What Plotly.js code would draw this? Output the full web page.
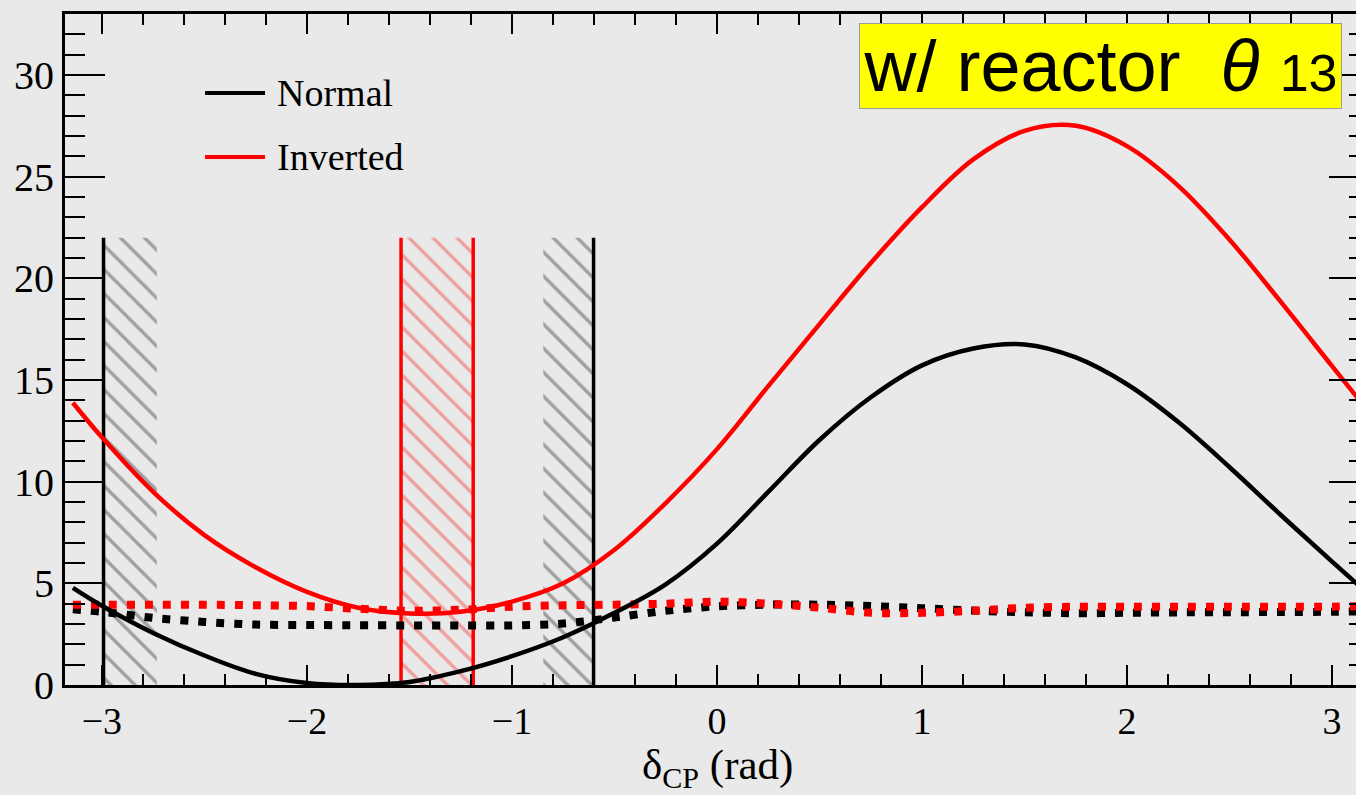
<!DOCTYPE html>
<html>
<head>
<meta charset="utf-8">
<script src="https://cdn.plot.ly/plotly-3.0.1.min.js"></script>
<style>
  html, body { margin: 0; padding: 0; overflow: hidden; background: #e9e9e9; }
  #chart { width: 1370px; height: 795px; }
</style>
</head>
<body>
<div id="chart"></div>
<script>
// ---- data ----
const deltaCP = [-3.1416, -3.0, -2.75, -2.5, -2.25, -2.0, -1.75, -1.5, -1.25, -1.0, -0.75, -0.5, -0.25,
                 0.0, 0.25, 0.5, 0.75, 1.0, 1.25, 1.5, 1.75, 2.0, 2.25, 2.5, 2.75, 3.0, 3.1416];
const normalChi2 = [4.78, 3.9, 2.56, 1.45, 0.55, 0.1, 0.0, 0.15, 0.68, 1.42, 2.35, 3.55, 4.95,
                    6.95, 9.5, 12.05, 14.15, 15.72, 16.55, 16.75, 16.11, 14.79, 12.93, 10.71, 8.36, 6.07, 4.79];
const invertedChi2 = [13.88, 12.18, 9.5, 7.37, 5.79, 4.58, 3.8, 3.52, 3.6, 4.1, 5.0, 6.65, 8.95,
                      11.6, 14.7, 17.75, 20.75, 23.5, 25.85, 27.25, 27.5, 26.5, 24.55, 21.9, 18.84, 15.68, 13.9];
const normalDot = [3.72, 3.6, 3.3, 3.1, 2.97, 2.95, 2.94, 2.93, 2.93, 2.93, 3.02, 3.32, 3.65,
                   3.87, 3.95, 3.95, 3.88, 3.78, 3.66, 3.58, 3.53, 3.55, 3.57, 3.58, 3.59, 3.6, 3.62];
const invertedDot = [3.95, 3.95, 3.95, 3.95, 3.92, 3.88, 3.75, 3.65, 3.7, 3.85, 3.92, 3.95, 4.0,
                     4.1, 4.0, 3.8, 3.55, 3.55, 3.65, 3.8, 3.85, 3.85, 3.85, 3.85, 3.85, 3.85, 3.88];

// 90% CL interval edges (hatched bands)
const normalBandLeft = [-2.992, -2.732];
const normalBandRight = [-0.847, -0.602];
const invertedBand = [-1.541, -1.189];
const bandTop = 22;

const xTickVals = [-3, -2, -1, 0, 1, 2, 3];
const xTickText = ['\u22123', '\u22122', '\u22121', '0', '1', '2', '3'];
const yTickVals = [0, 5, 10, 15, 20, 25, 30];

// ---- build traces ----
function band(edges, fg) {
  return {
    x: [edges[0], edges[1], edges[1], edges[0], edges[0]],
    y: [0, 0, bandTop, bandTop, 0],
    mode: 'lines', fill: 'toself', line: {width: 0, color: 'rgba(0,0,0,0)'},
    fillcolor: 'rgba(0,0,0,0)',
    fillpattern: {shape: '\\', size: 17, solidity: 0.2, fgcolor: fg, bgcolor: 'rgba(0,0,0,0)'},
    hoverinfo: 'skip', showlegend: false
  };
}
function vline(xv, color) {
  return {x: [xv, xv], y: [0, bandTop], mode: 'lines', line: {color: color, width: 3.5},
          hoverinfo: 'skip', showlegend: false};
}

const traces = [
  band(normalBandLeft, '#a0a0a0'),
  band(normalBandRight, '#a0a0a0'),
  band(invertedBand, '#eea0a0'),
  vline(normalBandLeft[0], '#000000'),
  vline(normalBandRight[1], '#000000'),
  vline(invertedBand[0], '#ff0000'),
  vline(invertedBand[1], '#ff0000'),
  {x: deltaCP, y: normalDot, mode: 'lines', line: {color: '#000000', width: 8, dash: '8px,10px', shape: 'spline', smoothing: 0.8},
   name: 'Normal (dotted)', showlegend: false},
  {x: deltaCP, y: invertedDot, mode: 'lines', line: {color: '#ff0000', width: 8, dash: '8px,10px', shape: 'spline', smoothing: 0.8},
   name: 'Inverted (dotted)', showlegend: false},
  {x: deltaCP, y: normalChi2, mode: 'lines', line: {color: '#000000', width: 4.5, shape: 'spline', smoothing: 1},
   name: 'Normal', showlegend: false},
  {x: deltaCP, y: invertedChi2, mode: 'lines', line: {color: '#ff0000', width: 4.5, shape: 'spline', smoothing: 1},
   name: 'Inverted', showlegend: false}
];

const serif = 'Liberation Serif, Times New Roman, serif';

const layout = {
  width: 1370, height: 795,
  margin: {l: 65, r: 1, t: 14, b: 110},
  paper_bgcolor: '#e9e9e9', plot_bgcolor: '#e9e9e9',
  showlegend: false,
  xaxis: {
    range: [-3.18, 3.18], showgrid: false, zeroline: false,
    showline: true, linecolor: '#000', linewidth: 3, mirror: 'allticks',
    ticks: 'inside', ticklen: 20, tickwidth: 2, tickcolor: '#000',
    tickvals: xTickVals, ticktext: xTickText,
    minor: {dtick: 0.2, tick0: 0, ticks: 'inside', ticklen: 11, tickwidth: 2, tickcolor: '#000'},
    tickfont: {family: serif, size: 38, color: '#000'}
  },
  yaxis: {
    range: [0, 33], showgrid: false, zeroline: false,
    showline: true, linecolor: '#000', linewidth: 3, mirror: 'allticks',
    ticks: 'inside', ticklen: 40, tickwidth: 2, tickcolor: '#000',
    tickvals: yTickVals,
    minor: {dtick: 1, tick0: 0, ticks: 'inside', ticklen: 20, tickwidth: 2, tickcolor: '#000'},
    tickfont: {family: serif, size: 40, color: '#000'}
  },
  shapes: [
    {type: 'line', xref: 'paper', yref: 'paper', x0: 0.1074, x1: 0.1534, y0: 0.8823, y1: 0.8823,
     line: {color: '#000', width: 4}},
    {type: 'line', xref: 'paper', yref: 'paper', x0: 0.1074, x1: 0.1534, y0: 0.7869, y1: 0.7869,
     line: {color: '#ff0000', width: 4}}
  ],
  annotations: [
    {xref: 'paper', yref: 'paper', x: 0.5, y: -0.1235, xanchor: 'center', yanchor: 'middle', showarrow: false,
     text: '\u03b4<sub>CP</sub> (rad)', font: {family: serif, size: 43, color: '#000'}},
    {xref: 'paper', yref: 'paper', x: 0.161, y: 0.8823, xanchor: 'left', yanchor: 'middle', showarrow: false,
     text: 'Normal', font: {family: serif, size: 38, color: '#000'}},
    {xref: 'paper', yref: 'paper', x: 0.161, y: 0.7869, xanchor: 'left', yanchor: 'middle', showarrow: false,
     text: 'Inverted', font: {family: serif, size: 38, color: '#000'}},
    {xref: 'paper', yref: 'paper', x: 0.794, y: 0.9225, xanchor: 'center', yanchor: 'middle', showarrow: false,
     text: 'w/ reactor\u00a0\u00a0<i>\u03b8</i>\u00a0<span style="font-size:52px">13</span>',
     font: {family: 'Liberation Sans, Arial, sans-serif', size: 72, color: '#000'},
     bgcolor: '#ffff00', bordercolor: '#9a9a9a', borderwidth: 1, borderpad: 1,
     width: 479, height: 82, align: 'center'}
  ]
};

Plotly.newPlot('chart', traces, layout, {displayModeBar: false, staticPlot: true});
</script>
</body>
</html>
